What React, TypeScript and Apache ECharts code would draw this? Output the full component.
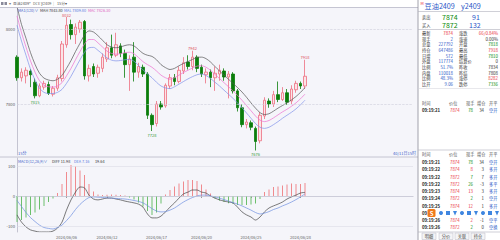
import React, { useEffect, useRef } from "react";
import * as echarts from "echarts";

const FONT = '"Noto Sans CJK SC", "Noto Sans", sans-serif';

// ---- candles (15-min) ----
const opens = [7925,7870,7875,7888,7858,7822,7845,7852,7826,7842,7868,7958,8012,7985,8000,8020,7875,7900,7882,7895,7920,7950,7930,7955,7935,7905,7925,7885,7898,7880,7770,7748,7800,7795,7848,7870,7860,7888,7912,7900,7925,7898,7878,7885,7870,7880,7888,7872,7880,7835,7790,7745,7750,7735,7702,7768,7808,7800,7825,7812,7830,7808,7838,7855,7848];
const closes = [7870,7885,7890,7878,7822,7848,7855,7828,7842,7870,7960,8010,7985,8005,8018,7875,7895,7880,7898,7925,7950,7930,7958,7935,7905,7920,7885,7900,7880,7770,7745,7800,7792,7850,7870,7860,7890,7910,7900,7925,7895,7880,7885,7870,7882,7890,7872,7880,7835,7790,7745,7752,7738,7700,7770,7810,7800,7825,7812,7830,7805,7840,7855,7848,7874];
const lows = [7862,7860,7855,7845,7815,7818,7838,7824,7820,7835,7860,7950,7972,7960,7990,7865,7860,7872,7870,7885,7912,7922,7925,7925,7870,7835,7860,7870,7872,7760,7728,7740,7785,7790,7840,7850,7855,7880,7892,7890,7885,7872,7855,7845,7835,7862,7862,7815,7828,7780,7738,7735,7730,7676,7695,7760,7790,7792,7805,7808,7798,7800,7830,7840,7840];
const highs = [7930,7895,7898,7893,7868,7855,7862,7860,7848,7878,7968,8032,8025,8015,8024,8024,7905,7908,7905,7935,7965,7985,7990,7962,7945,7930,7965,7910,7905,7885,7775,7808,7808,7855,7880,7880,7900,7925,7930,7942,7930,7905,7895,7892,7900,7905,7895,7888,7885,7840,7800,7760,7756,7740,7778,7818,7815,7835,7860,7845,7840,7850,7862,7860,7918];

// ---- MA lines (MAH / MAC / MAL) ----
const mah = [8060,8012,7975,7937,7906,7882,7869,7864,7862,7866,7876,7895,7916,7940,7962,7984,7995,7992,7982,7970,7958,7952,7950,7952,7956,7958,7955,7945,7935,7930,7927,7918,7905,7897,7892,7895,7902,7908,7913,7919,7924,7925,7921,7912,7900,7888,7877,7866,7855,7844,7832,7818,7803,7789,7777,7772,7774,7781,7789,7796,7803,7811,7820,7831,7843.8];
const mac = [8035,7990,7952,7915,7885,7862,7850,7846,7845,7848,7857,7875,7895,7918,7940,7960,7972,7972,7963,7952,7941,7935,7933,7934,7937,7938,7934,7924,7913,7905,7898,7888,7877,7870,7866,7870,7877,7884,7890,7896,7901,7902,7898,7890,7879,7868,7857,7846,7835,7823,7810,7796,7782,7768,7757,7753,7756,7763,7771,7779,7786,7794,7803,7814,7826.3];
const mal = [8010,7968,7930,7893,7864,7842,7831,7828,7828,7831,7839,7855,7874,7896,7918,7938,7950,7951,7943,7933,7923,7917,7915,7916,7918,7919,7914,7903,7891,7880,7870,7858,7848,7843,7841,7846,7853,7860,7867,7873,7878,7880,7876,7868,7858,7848,7837,7826,7815,7803,7790,7776,7762,7748,7738,7735,7738,7745,7753,7762,7770,7778,7787,7798,7809.8];

// ---- MACD ----
const macdHist = [-87,-80,-72,-63,-55,-45,-33,-20,-8,10,40,80,103,98,85,70,40,15,5,3,4,5,4,3,2,-5,-12,-22,-35,-50,-63,-55,-25,5,20,32,42,48,53,53,50,38,22,8,-8,-15,-20,-24,-27,-30,-30,-30,-28,-25,-10,13,22,30,32,35,38,42,40,40,43];
const diffLine = [-63,-87,-103,-113,-117,-120,-120,-120,-117,-107,-87,-47,-13,13,30,27,3,-10,-13,-10,-7,-7,-10,-13,-17,-20,-23,-27,-37,-60,-73,-73,-67,-53,-37,-23,-7,7,13,20,20,13,10,0,-7,-13,-17,-20,-23,-37,-53,-63,-70,-80,-70,-53,-40,-33,-27,-20,-10,-3,3,10,11.98];
const deaLine = [-15,-35,-55,-72,-85,-97,-105,-108,-110,-105,-97,-82,-65,-45,-28,-15,-5,-3,-4,-5,-6,-7,-8,-9,-10,-12,-15,-18,-23,-32,-42,-50,-53,-52,-47,-40,-30,-20,-12,-5,0,3,3,0,-3,-7,-12,-17,-22,-27,-33,-40,-47,-55,-60,-57,-52,-45,-40,-33,-27,-20,-12,-3,7.16];

// ---- axes ----
const totalSlots = 89;
const tickIndex = [11, 20, 31, 41, 52, 63];
const tickLabels = ["2024/06/06", "2024/06/12", "2024/06/17", "2024/06/20", "2024/06/25", "2024/06/28"];
const priceTicks = [7800, 8000];
const macdTicks = [-100, 0, 100];
const highMarks = [11, 39, 64];
const lowMarks = [4, 30, 53];

// ---- right panel ----
const quoteLeft = [["最新", "7874"], ["现手", "2"], ["总量", "227792"], ["持仓", "647486"], ["日增", "572"], ["外盘", "117774"], ["比例", "51.7%"], ["内盘", "110018"], ["比例", "48.3%"], ["比开", "9.06"]];
const quoteLeftColor = ["r", "b", "b", "b", "b", "b", "b", "b", "b", "b"];
const quoteRight = [["涨跌", "66/0.84%"], ["涨速", "0.00%"], ["开盘", "7818"], ["最高", "7918"], ["最低", "7810"], ["结算价", "0"], ["昨收", "7834"], ["昨结", "7808"], ["涨停", "8282"], ["跌停", "7336"]];
const quoteRightColor = ["r", "d", "g", "r", "g", "d", "d", "d", "r", "g"];
const tradeTimes = ["09:19:21", "09:19:22", "09:19:22", "09:19:22", "09:19:23", "09:19:24", "09:19:25", "09:19:26", "09:19:26"];
const tradePrices = ["7874", "7874", "7872", "7872", "7874", "7872", "7874", "7874", "7872"];
const tradeVols = ["78", "8", "7", "26", "13", "2", "12", "2", "2"];
const tradeVolColor = ["g", "r", "g", "g", "r", "g", "r", "r", "g"];
const tradeOI = ["34", "3", "7", "-3", "3", "1", "1", "-1", "0"];
const tradeType = ["空开", "多开", "多开", "多平", "多开", "空开", "多开", "空平", "空换"];

const COL: Record<string, string> = { r: "#e8303a", g: "#0a8a0a", b: "#2a56c6", d: "#333333" };

export default function App() {
  const ref = useRef<HTMLDivElement>(null);
  useEffect(() => {
    if (!ref.current) return;
    const chart = echarts.init(ref.current, undefined, { renderer: "svg" });
    const cats = Array.from({ length: totalSlots }, (_, i) => "k" + i);
    const showTick = (i: number) => tickIndex.includes(i);

    const T = (x: number, y: number, text: string, fill = "#333", size = 4.2, align = "left", weight = "normal") => ({
      type: "text", x, y, z: 100, silent: true,
      style: { text, fill, fontSize: size, fontFamily: FONT, fontWeight: weight, align, verticalAlign: "middle" },
    });
    const L = (x1: number, y1: number, x2: number, y2: number, stroke = "#c8c8d2", w = 0.6) => ({
      type: "line", z: 99, silent: true, shape: { x1, y1, x2, y2 }, style: { stroke, lineWidth: w },
    });
    const g: any[] = [];
    // top header strip
    g.push({ type: "rect", z: 98, silent: true, shape: { x: 0, y: 0, width: 418, height: 7.5 }, style: { fill: "#ffffff" } });
    g.push(L(0, 7.5, 418, 7.5, "#b8b8c6", 0.8));
    g.push({ type: "rect", z: 100, shape: { x: 1, y: 2, width: 2.5, height: 3 }, style: { fill: "#8a8a9a" } });
    g.push({ type: "rect", z: 100, shape: { x: 4.5, y: 2, width: 2.5, height: 3 }, style: { fill: "#8a8a9a" } });
    g.push(T(9, 3.8, "▾", "#777", 3.5));
    g.push(T(13, 3.8, "豆油2409*", "#555", 3.8));
    g.push(T(33, 3.8, "DCE", "#666", 3.8));
    g.push(T(41, 3.8, "y2409", "#555", 3.8));
    g.push(T(53, 3.8, "|", "#aaa", 3.8));
    g.push(T(57, 3.8, "15分▾", "#555", 3.8));
    // MA legend
    g.push(T(18, 10, "MA1(120)∨", "#3b5fc8", 3.8));
    g.push(T(40, 10, "MAH 7843.80", "#333", 3.8));
    g.push(T(64, 10, "MAL 7809.80", "#5a78e0", 3.8));
    g.push(T(88, 10, "MAC 7826.30", "#e060c0", 3.8));
    // period labels
    g.push(T(18, 153, "15分", "#3b5fc8", 4));
    g.push(T(416, 153, "40/11日15时", "#3b5fc8", 4, "right"));
    g.push(L(0, 157, 418, 157, "#b8b8c6", 0.8));
    // MACD legend
    g.push(T(18, 161, "MACD(12,26,9)∨", "#3b5fc8", 3.8));
    g.push(T(52, 161, "DIFF 11.98", "#333", 3.8));
    g.push(T(74, 161, "DEA 7.16", "#5a78e0", 3.8));
    g.push(T(95, 161, "19.64", "#333", 3.8));

    // right panel
    g.push({ type: "rect", z: 98, silent: true, shape: { x: 418, y: 0, width: 82, height: 240 }, style: { fill: "#ffffff" } });
    g.push(L(418, 0, 418, 240, "#8c8c98", 0.8));
    g.push(T(420.5, 3.2, "M", "#e8303a", 4));
    g.push(T(424.5, 6, "豆油2409", "#2a56c6", 7.2));
    g.push(T(461, 6, "y2409", "#2a56c6", 7.2));
    g.push(L(418, 11.5, 500, 11.5, "#b0b0bc", 0.6));
    g.push(T(422, 16.5, "卖出", "#333", 4.2));
    g.push(T(442, 16.5, "7874", COL.g, 7));
    g.push(T(472, 16.5, "91", COL.b, 7));
    g.push(T(422, 25, "买入", "#333", 4.2));
    g.push(T(442, 25, "7872", COL.g, 7));
    g.push(T(469, 25, "132", COL.b, 7));
    g.push(L(418, 29.5, 500, 29.5, "#b0b0bc", 0.6));
    quoteLeft.forEach((r, k) => {
      const y = 32.8 + k * 5.7;
      g.push(T(422, y, r[0], "#333", 4.2));
      g.push(T(453, y, r[1], COL[quoteLeftColor[k]], 4.4, "right"));
      g.push(T(459, y, quoteRight[k][0], "#333", 4.2));
      g.push(T(498, y, quoteRight[k][1], COL[quoteRightColor[k]], 4.4, "right"));
    });
    g.push(L(418, 88.5, 500, 88.5, "#d0d0d8", 0.5));
    const hdr = (y: number) => {
      g.push(T(422, y, "时间", "#555", 4.2));
      g.push(T(449, y, "价位", "#555", 4.2));
      g.push(T(466, y, "现手", "#555", 4.2));
      g.push(T(477, y, "增仓", "#555", 4.2));
      g.push(T(489, y, "开平", "#555", 4.2));
    };
    const trade = (k: number, y: number) => {
      g.push(T(422, y, tradeTimes[k], "#222", 4.3, "left", "bold"));
      g.push(T(450, y, tradePrices[k], COL.r, 4.3));
      g.push(T(473, y, tradeVols[k], COL[tradeVolColor[k]], 4.3, "right"));
      g.push(T(484, y, tradeOI[k], "#333", 4.3, "right"));
      g.push(T(489, y, tradeType[k], COL.b, 4.2));
    };
    hdr(103);
    trade(0, 109.5);
    g.push(L(418, 150, 500, 150, "#b0b0bc", 0.6));
    hdr(154);
    const rowY = [162, 169, 176.5, 183.5, 191, 198, 205.5, 220, 227];
    rowY.forEach((y, k) => trade(k, y));
    // toolbar row (covers one trade row; only its "09" prefix stays visible)
    g.push(T(422, 213, "09", "#222", 4.3, "left", "bold"));
    g.push({ type: "rect", z: 102, silent: true, shape: { x: 427.5, y: 209, width: 8, height: 8, r: 1.5 }, style: { fill: "#f07a1a" } });
    g.push({ ...T(431.5, 213.2, "S", "#ffffff", 6, "center", "bold"), z: 103 });
    [441, 448, 455, 462, 469, 476, 483, 490, 497].forEach((x, k) => {
      if (k % 3 === 0) g.push({ type: "circle", z: 102, silent: true, shape: { cx: x, cy: 213, r: 2 }, style: { fill: "#3f86e0" } });
      else if (k % 3 === 1) g.push({ type: "rect", z: 102, silent: true, shape: { x: x - 2, y: 211, width: 4, height: 4 }, style: { fill: "#3f86e0" } });
      else g.push({ type: "polygon", z: 102, silent: true, shape: { points: [[x - 2, 211], [x + 2, 211], [x, 215.5]] }, style: { fill: "#3f86e0" } });
    });
    // bottom tabs
    g.push(L(418, 232, 500, 232, "#b0b0bc", 0.6));
    [["明细", 423], ["分价", 440], ["关联", 456], ["持仓", 472]].forEach(([t, x]) => {
      g.push({ type: "rect", z: 100, silent: true, shape: { x: (x as number) - 1, y: 233, width: 14, height: 6.5 }, style: { fill: "#f4f4f6", stroke: "#b8b8c4", lineWidth: 0.5 } });
      g.push(T((x as number) + 6, 236.3, t as string, "#444", 4.2, "center"));
    });

    const option: any = {
      animation: false,
      backgroundColor: "#f5f5fa",
      textStyle: { fontFamily: FONT },
      grid: [
        { left: 17, top: 8, width: 396, height: 147 },
        { left: 17, top: 158, width: 396, height: 74 },
      ],
      xAxis: [
        {
          type: "category", gridIndex: 0, data: cats, boundaryGap: false,
          axisLine: { show: false }, axisTick: { show: false }, axisLabel: { show: false }, splitLine: { show: false },
        },
        {
          type: "category", gridIndex: 1, data: cats, boundaryGap: false,
          axisLine: { show: true, lineStyle: { color: "#b8b8c6", width: 0.8 } },
          axisTick: { show: true, interval: (i: number) => showTick(i), length: 2, lineStyle: { color: "#999" } },
          axisLabel: {
            interval: (i: number) => showTick(i),
            formatter: (_v: string, i: number) => { const k = tickIndex.indexOf(i); return k >= 0 ? tickLabels[k] : ""; },
            fontSize: 4, color: "#666", margin: 3,
          },
          splitLine: { show: false },
        },
      ],
      yAxis: [
        {
          type: "value", gridIndex: 0, min: 7664, max: 8056,
          axisLine: { show: true, lineStyle: { color: "#b8b8c6", width: 0.8 } },
          axisTick: { show: false }, splitLine: { show: false },
          axisLabel: { customValues: priceTicks, formatter: (v: number) => String(v), fontSize: 4.2, color: "#555", margin: 2 },
        },
        {
          type: "value", gridIndex: 1, min: -120, max: 126.67,
          axisLine: { show: true, lineStyle: { color: "#b8b8c6", width: 0.8 } },
          axisTick: { show: false }, splitLine: { show: false },
          axisLabel: { customValues: macdTicks, formatter: (v: number) => String(v), fontSize: 4.2, color: "#555", margin: 2 },
        },
      ],
      series: [
        {
          type: "candlestick", xAxisIndex: 0, yAxisIndex: 0, clip: false, barWidth: 3,
          data: opens.map((o, i) => [o, closes[i], lows[i], highs[i]]),
          itemStyle: { color: "#fbe4e7", color0: "#0b7d0b", borderColor: "#ee6f80", borderColor0: "#0b7d0b", borderWidth: 0.8 },
          markLine: {
            silent: true, symbol: "none", label: { show: false },
            lineStyle: { color: "#cfcfdc", type: "dashed", width: 0.6 },
            data: priceTicks.map((v) => ({ yAxis: v })),
          },
          markPoint: {
            symbol: "circle", symbolSize: 0.01, silent: true, itemStyle: { color: "transparent" },
            label: { show: true, fontSize: 4, formatter: (p: any) => String(p.value) },
            data: [
              ...highMarks.map((i) => ({ coord: [i, highs[i]], value: highs[i], label: { position: "top", distance: 0.3, color: "#e0505a" } })),
              ...lowMarks.map((i) => ({ coord: [i, lows[i]], value: lows[i], label: { position: "bottom", distance: 1.5, color: "#3a9a3a" } })),
            ],
          },
        },
        { type: "line", xAxisIndex: 0, yAxisIndex: 0, data: mah, smooth: 0.3, symbol: "none", lineStyle: { color: "#555", width: 0.7 } },
        { type: "line", xAxisIndex: 0, yAxisIndex: 0, data: mac, smooth: 0.3, symbol: "none", lineStyle: { color: "#ec70d0", width: 0.7 } },
        { type: "line", xAxisIndex: 0, yAxisIndex: 0, data: mal, smooth: 0.3, symbol: "none", lineStyle: { color: "#7f90ea", width: 0.7 } },
        {
          type: "bar", xAxisIndex: 1, yAxisIndex: 1, data: macdHist, barWidth: 1,
          itemStyle: { color: (p: any) => (p.value >= 0 ? "#f08a8e" : "#6cbf6c") },
          markLine: {
            silent: true, symbol: "none", label: { show: false },
            lineStyle: { color: "#d6d6e2", type: "solid", width: 0.5 },
            data: macdTicks.map((v) => ({ yAxis: v })),
          },
        },
        { type: "line", xAxisIndex: 1, yAxisIndex: 1, data: diffLine, smooth: 0.3, symbol: "none", lineStyle: { color: "#444", width: 0.7 } },
        { type: "line", xAxisIndex: 1, yAxisIndex: 1, data: deaLine, smooth: 0.3, symbol: "none", lineStyle: { color: "#6f8fe0", width: 0.7 } },
      ],
      graphic: g,
    };
    chart.setOption(option);
    return () => chart.dispose();
  }, []);
  return <div ref={ref} style={{ position: "fixed", left: 0, top: 0, width: 500, height: 240 }} />;
}
